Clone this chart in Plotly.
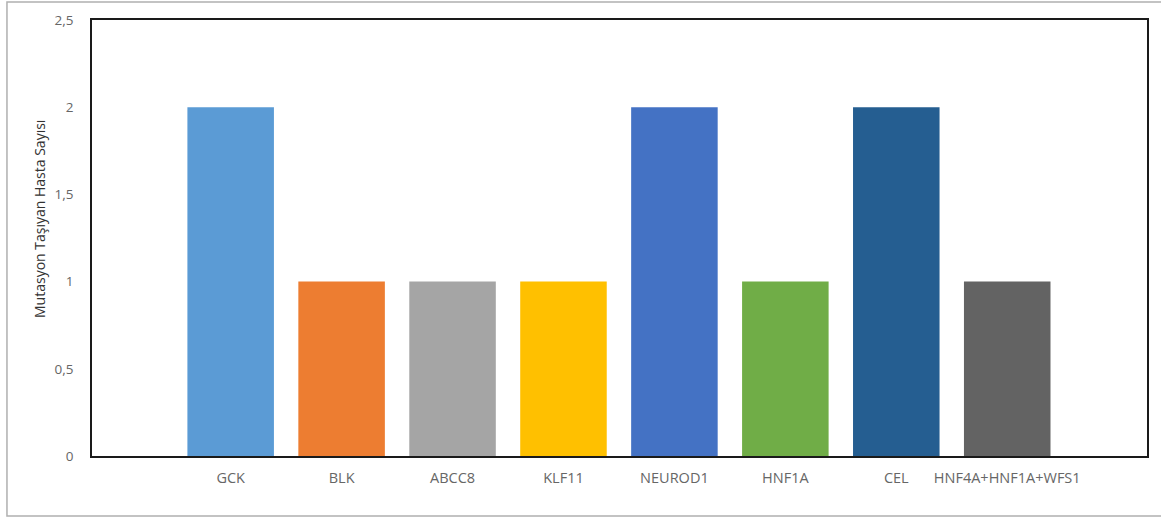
import plotly.graph_objects as go

# Gene categories and number of patients carrying a mutation
genes = ["GCK", "BLK", "ABCC8", "KLF11", "NEUROD1", "HNF1A", "CEL", "HNF4A+HNF1A+WFS1"]
patients = [2, 1, 1, 1, 2, 1, 2, 1]
colors = ["#5B9BD5", "#ED7D31", "#A5A5A5", "#FFC000", "#4472C4", "#70AD47", "#255E91", "#636363"]
y_ticks = [0, 0.5, 1, 1.5, 2, 2.5]
y_title = "Mutasyon Taşıyan Hasta Sayısı"

positions = list(range(len(genes)))

fig = go.Figure(
    go.Bar(
        x=positions,
        y=patients,
        marker=dict(color=colors, line=dict(width=0)),
        width=0.78,
        showlegend=False,
        hoverinfo="skip",
    )
)

family = "'Open Sans', Lato, sans-serif"
x_font = dict(family=family, size=14.5, color="#666666")
y_font = dict(family=family, size=13.5, color="#666666")

fig.update_layout(
    width=1161,
    height=520,
    margin=dict(l=92, r=14, t=20, b=64),
    paper_bgcolor="white",
    plot_bgcolor="white",
    separators=", ",
    font=dict(family=family),
    xaxis=dict(
        range=[-1.25, 8.26],
        tickmode="array",
        tickvals=positions,
        ticktext=genes,
        showgrid=False,
        zeroline=False,
        showline=True,
        mirror=True,
        linecolor="#1a1a1a",
        linewidth=1.5,
        ticks="",
        ticklabelstandoff=8,
        tickfont=x_font,
    ),
    yaxis=dict(
        range=[0, 2.5],
        tickmode="array",
        tickvals=y_ticks,
        showgrid=False,
        zeroline=False,
        showline=True,
        mirror=True,
        linecolor="#1a1a1a",
        linewidth=1.5,
        ticks="",
        ticklabelstandoff=14,
        tickfont=y_font,
    ),
)

# Vertical y-axis caption
fig.add_annotation(
    text=y_title,
    textangle=-90,
    xref="paper",
    yref="paper",
    x=-0.0493,
    y=0.5436,
    xanchor="center",
    yanchor="middle",
    showarrow=False,
    font=dict(family=family, size=14, color="#333333"),
)

# Light grey frame around the whole chart
fig.add_shape(
    type="rect",
    xref="paper",
    yref="paper",
    x0=-0.0806,
    x1=1.02,
    y0=-0.1376,
    y1=1.0413,
    line=dict(color="#b0b0b0", width=1.5),
    fillcolor="rgba(0,0,0,0)",
    layer="below",
)

fig.write_html("out.html")
